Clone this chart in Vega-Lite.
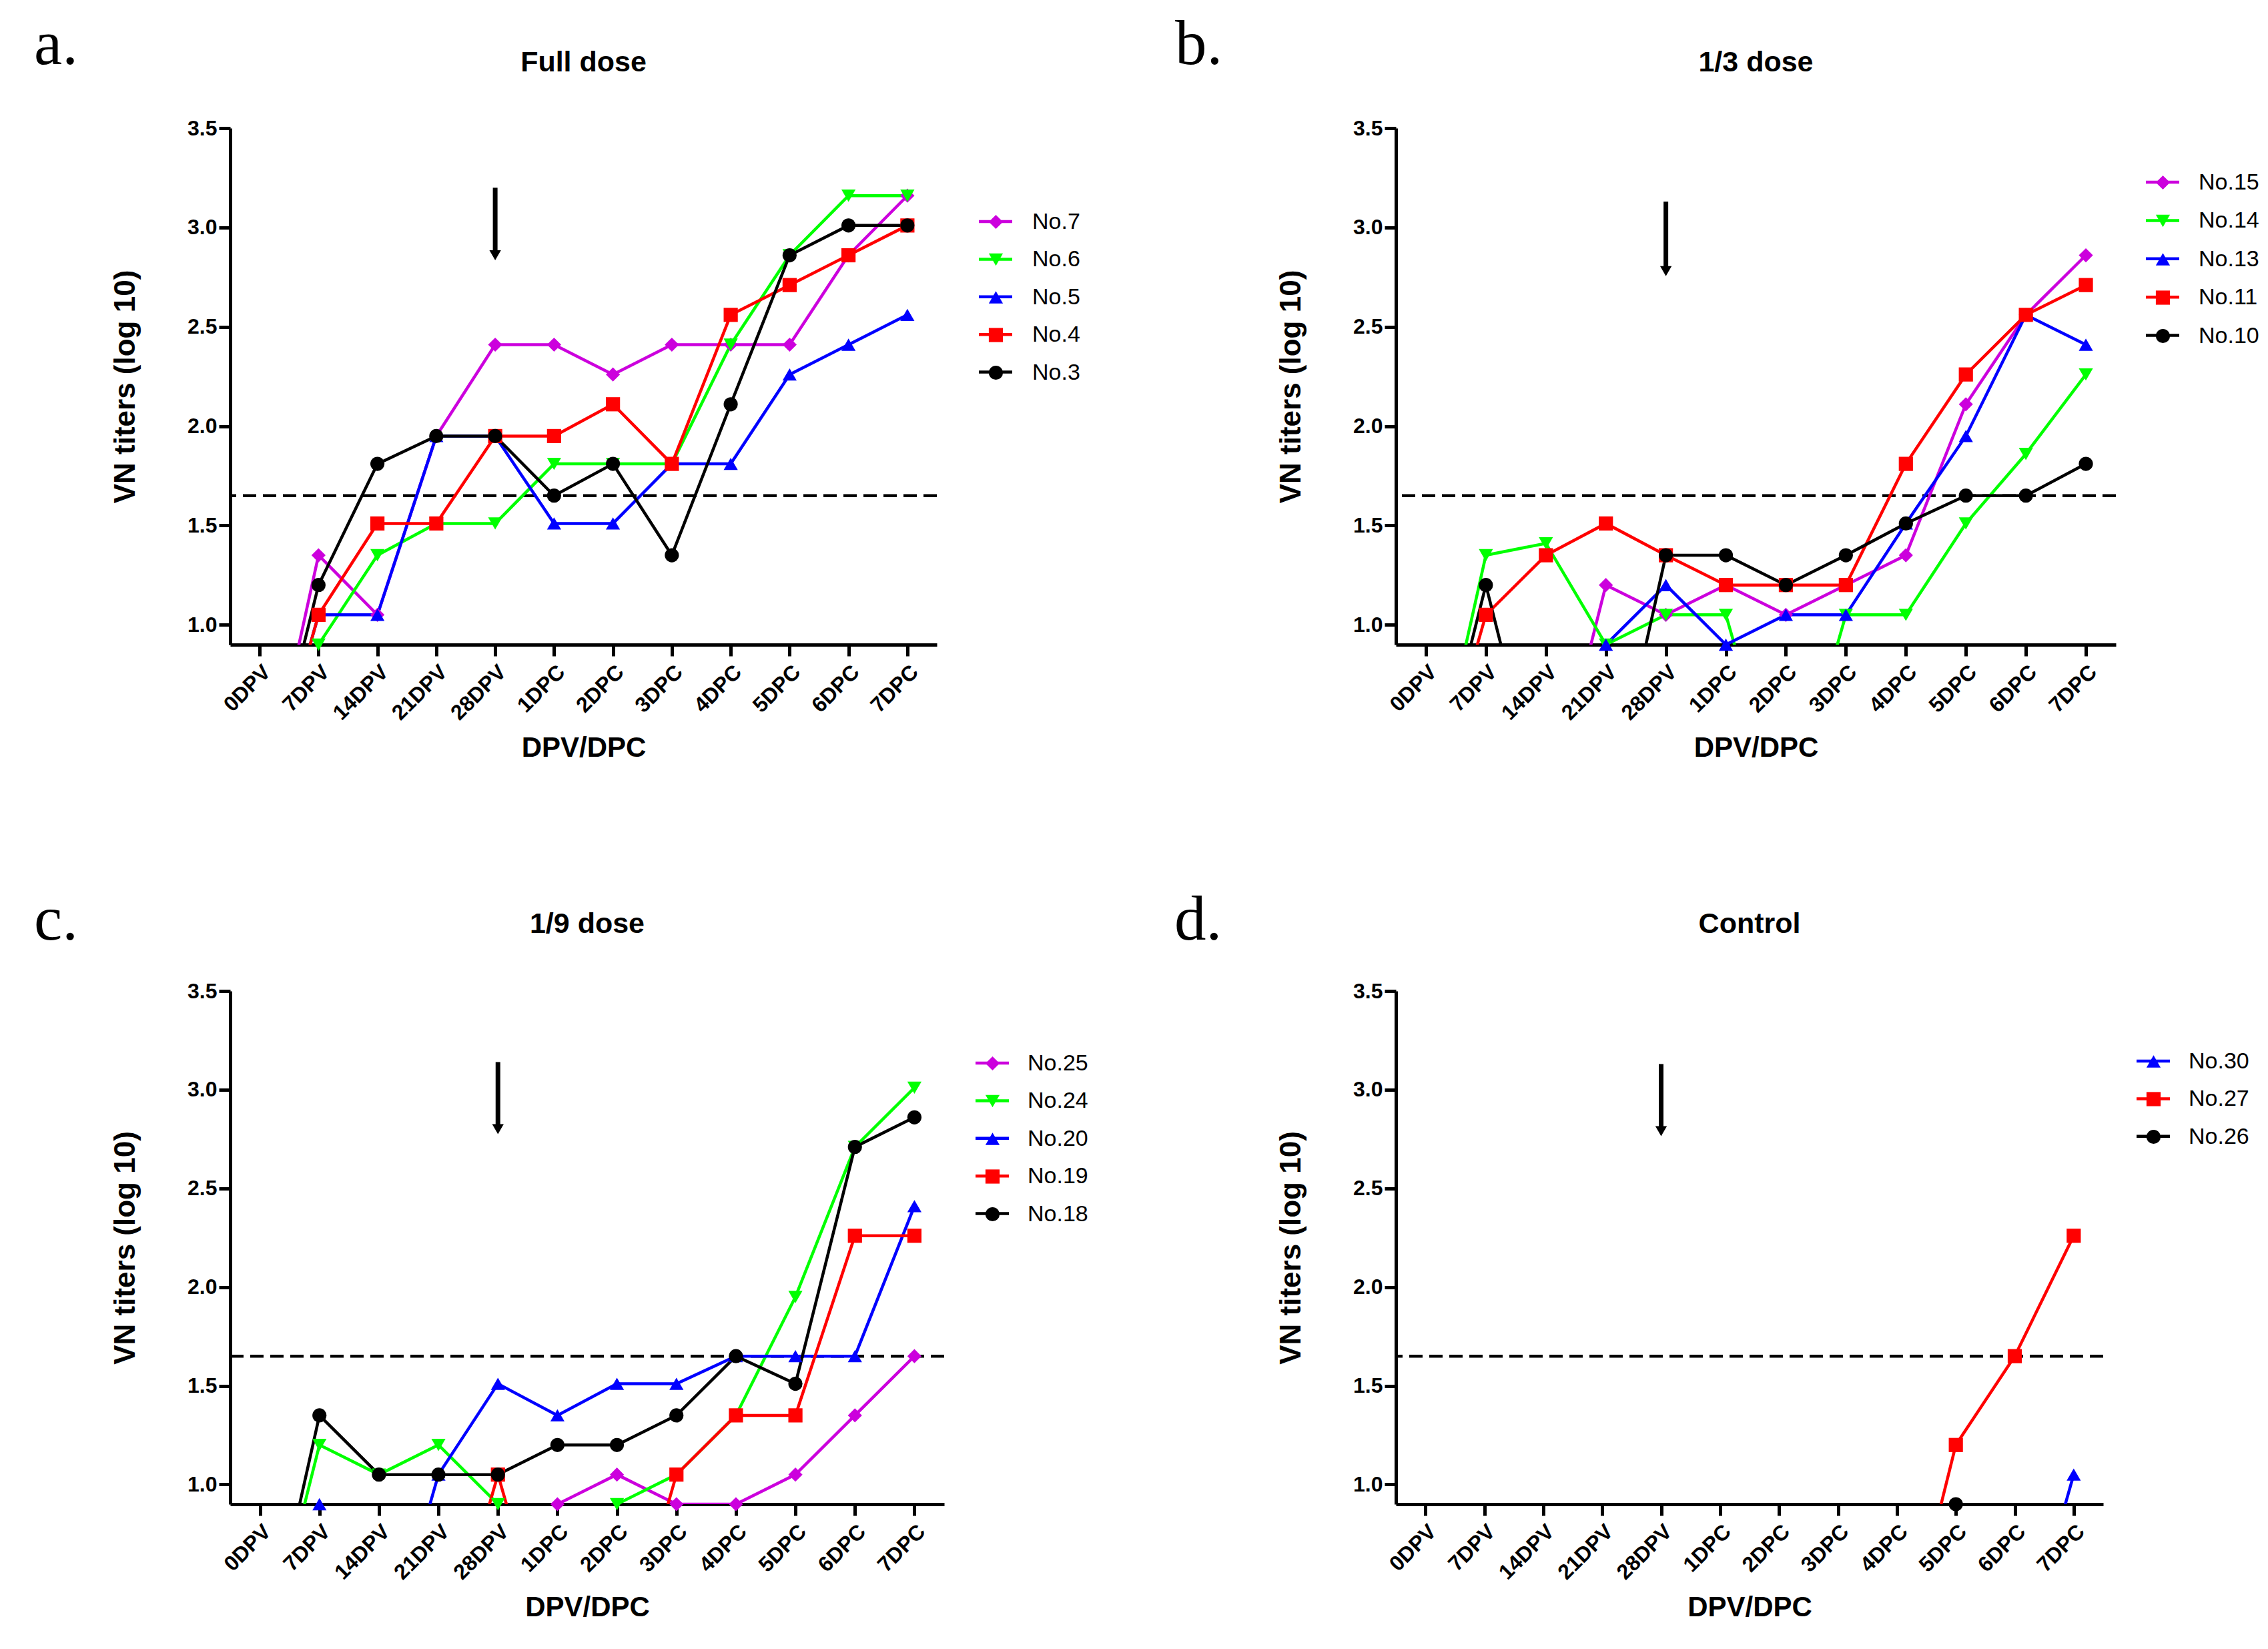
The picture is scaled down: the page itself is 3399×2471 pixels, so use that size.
{
  "$schema": "https://vega.github.io/schema/vega-lite/v6.json",
  "background": "white",
  "padding": {"left": 51, "top": 20, "right": 10, "bottom": 10},
  "config": {
    "font": "Liberation Sans",
    "view": {"stroke": null},
    "axis": {"domainColor": "#000", "domainWidth": 5, "tickColor": "#000", "tickWidth": 5, "tickSize": 17, "labelFont": "Liberation Sans", "labelFontSize": 32, "labelFontWeight": "bold", "labelColor": "#000", "titleFont": "Liberation Sans", "titleFontWeight": "bold", "titleColor": "#000", "grid": false},
    "axisX": {"labelAngle": -45, "labelPadding": 8, "titlePadding": 16, "titleFontSize": 42},
    "axisY": {"labelPadding": 3, "titlePadding": 70, "titleFontSize": 44},
    "title": {"font": "Liberation Sans", "fontSize": 43, "fontWeight": "bold", "color": "#000", "anchor": "middle", "frame": "group"},
    "legend": {"labelFont": "Liberation Sans", "labelFontSize": 34, "labelColor": "#000", "padding": 0}
  },
  "datasets": {
    "a": [
      {"id":"No.7","day":"0DPV","v":0},{"id":"No.7","day":"7DPV","v":1.35},{"id":"No.7","day":"14DPV","v":1.05},{"id":"No.7","day":"21DPV","v":1.95},{"id":"No.7","day":"28DPV","v":2.41},{"id":"No.7","day":"1DPC","v":2.41},{"id":"No.7","day":"2DPC","v":2.26},{"id":"No.7","day":"3DPC","v":2.41},{"id":"No.7","day":"4DPC","v":2.41},{"id":"No.7","day":"5DPC","v":2.41},{"id":"No.7","day":"6DPC","v":2.86},{"id":"No.7","day":"7DPC","v":3.16},
      {"id":"No.6","day":"0DPV","v":0},{"id":"No.6","day":"7DPV","v":0.9},{"id":"No.6","day":"14DPV","v":1.35},{"id":"No.6","day":"21DPV","v":1.51},{"id":"No.6","day":"28DPV","v":1.51},{"id":"No.6","day":"1DPC","v":1.81},{"id":"No.6","day":"2DPC","v":1.81},{"id":"No.6","day":"3DPC","v":1.81},{"id":"No.6","day":"4DPC","v":2.41},{"id":"No.6","day":"5DPC","v":2.86},{"id":"No.6","day":"6DPC","v":3.16},{"id":"No.6","day":"7DPC","v":3.16},
      {"id":"No.5","day":"0DPV","v":0},{"id":"No.5","day":"7DPV","v":1.05},{"id":"No.5","day":"14DPV","v":1.05},{"id":"No.5","day":"21DPV","v":1.95},{"id":"No.5","day":"28DPV","v":1.95},{"id":"No.5","day":"1DPC","v":1.51},{"id":"No.5","day":"2DPC","v":1.51},{"id":"No.5","day":"3DPC","v":1.81},{"id":"No.5","day":"4DPC","v":1.81},{"id":"No.5","day":"5DPC","v":2.26},{"id":"No.5","day":"6DPC","v":2.41},{"id":"No.5","day":"7DPC","v":2.56},
      {"id":"No.4","day":"0DPV","v":0},{"id":"No.4","day":"7DPV","v":1.05},{"id":"No.4","day":"14DPV","v":1.51},{"id":"No.4","day":"21DPV","v":1.51},{"id":"No.4","day":"28DPV","v":1.95},{"id":"No.4","day":"1DPC","v":1.95},{"id":"No.4","day":"2DPC","v":2.11},{"id":"No.4","day":"3DPC","v":1.81},{"id":"No.4","day":"4DPC","v":2.56},{"id":"No.4","day":"5DPC","v":2.71},{"id":"No.4","day":"6DPC","v":2.86},{"id":"No.4","day":"7DPC","v":3.01},
      {"id":"No.3","day":"0DPV","v":0},{"id":"No.3","day":"7DPV","v":1.2},{"id":"No.3","day":"14DPV","v":1.81},{"id":"No.3","day":"21DPV","v":1.95},{"id":"No.3","day":"28DPV","v":1.95},{"id":"No.3","day":"1DPC","v":1.65},{"id":"No.3","day":"2DPC","v":1.81},{"id":"No.3","day":"3DPC","v":1.35},{"id":"No.3","day":"4DPC","v":2.11},{"id":"No.3","day":"5DPC","v":2.86},{"id":"No.3","day":"6DPC","v":3.01},{"id":"No.3","day":"7DPC","v":3.01}
    ],
    "b": [
      {"id":"No.15","day":"0DPV","v":0},{"id":"No.15","day":"7DPV","v":0},{"id":"No.15","day":"14DPV","v":0},{"id":"No.15","day":"21DPV","v":1.2},{"id":"No.15","day":"28DPV","v":1.05},{"id":"No.15","day":"1DPC","v":1.2},{"id":"No.15","day":"2DPC","v":1.05},{"id":"No.15","day":"3DPC","v":1.2},{"id":"No.15","day":"4DPC","v":1.35},{"id":"No.15","day":"5DPC","v":2.11},{"id":"No.15","day":"6DPC","v":2.56},{"id":"No.15","day":"7DPC","v":2.86},
      {"id":"No.14","day":"0DPV","v":0},{"id":"No.14","day":"7DPV","v":1.35},{"id":"No.14","day":"14DPV","v":1.41},{"id":"No.14","day":"21DPV","v":0.9},{"id":"No.14","day":"28DPV","v":1.05},{"id":"No.14","day":"1DPC","v":1.05},{"id":"No.14","day":"2DPC","v":0},{"id":"No.14","day":"3DPC","v":1.05},{"id":"No.14","day":"4DPC","v":1.05},{"id":"No.14","day":"5DPC","v":1.51},{"id":"No.14","day":"6DPC","v":1.86},{"id":"No.14","day":"7DPC","v":2.26},
      {"id":"No.13","day":"0DPV","v":0},{"id":"No.13","day":"7DPV","v":0},{"id":"No.13","day":"14DPV","v":0},{"id":"No.13","day":"21DPV","v":0.9},{"id":"No.13","day":"28DPV","v":1.2},{"id":"No.13","day":"1DPC","v":0.9},{"id":"No.13","day":"2DPC","v":1.05},{"id":"No.13","day":"3DPC","v":1.05},{"id":"No.13","day":"4DPC","v":1.51},{"id":"No.13","day":"5DPC","v":1.95},{"id":"No.13","day":"6DPC","v":2.56},{"id":"No.13","day":"7DPC","v":2.41},
      {"id":"No.11","day":"0DPV","v":0},{"id":"No.11","day":"7DPV","v":1.05},{"id":"No.11","day":"14DPV","v":1.35},{"id":"No.11","day":"21DPV","v":1.51},{"id":"No.11","day":"28DPV","v":1.35},{"id":"No.11","day":"1DPC","v":1.2},{"id":"No.11","day":"2DPC","v":1.2},{"id":"No.11","day":"3DPC","v":1.2},{"id":"No.11","day":"4DPC","v":1.81},{"id":"No.11","day":"5DPC","v":2.26},{"id":"No.11","day":"6DPC","v":2.56},{"id":"No.11","day":"7DPC","v":2.71},
      {"id":"No.10","day":"0DPV","v":0},{"id":"No.10","day":"7DPV","v":1.2},{"id":"No.10","day":"14DPV","v":0},{"id":"No.10","day":"21DPV","v":0},{"id":"No.10","day":"28DPV","v":1.35},{"id":"No.10","day":"1DPC","v":1.35},{"id":"No.10","day":"2DPC","v":1.2},{"id":"No.10","day":"3DPC","v":1.35},{"id":"No.10","day":"4DPC","v":1.51},{"id":"No.10","day":"5DPC","v":1.65},{"id":"No.10","day":"6DPC","v":1.65},{"id":"No.10","day":"7DPC","v":1.81}
    ],
    "c": [
      {"id":"No.25","day":"0DPV","v":0},{"id":"No.25","day":"7DPV","v":0},{"id":"No.25","day":"14DPV","v":0},{"id":"No.25","day":"21DPV","v":0},{"id":"No.25","day":"28DPV","v":0},{"id":"No.25","day":"1DPC","v":0.9},{"id":"No.25","day":"2DPC","v":1.05},{"id":"No.25","day":"3DPC","v":0.9},{"id":"No.25","day":"4DPC","v":0.9},{"id":"No.25","day":"5DPC","v":1.05},{"id":"No.25","day":"6DPC","v":1.35},{"id":"No.25","day":"7DPC","v":1.65},
      {"id":"No.24","day":"0DPV","v":0},{"id":"No.24","day":"7DPV","v":1.2},{"id":"No.24","day":"14DPV","v":1.05},{"id":"No.24","day":"21DPV","v":1.2},{"id":"No.24","day":"28DPV","v":0.9},{"id":"No.24","day":"1DPC","v":0},{"id":"No.24","day":"2DPC","v":0.9},{"id":"No.24","day":"3DPC","v":1.05},{"id":"No.24","day":"4DPC","v":1.35},{"id":"No.24","day":"5DPC","v":1.95},{"id":"No.24","day":"6DPC","v":2.71},{"id":"No.24","day":"7DPC","v":3.01},
      {"id":"No.20","day":"0DPV","v":0},{"id":"No.20","day":"7DPV","v":0.9},{"id":"No.20","day":"14DPV","v":0},{"id":"No.20","day":"21DPV","v":1.05},{"id":"No.20","day":"28DPV","v":1.51},{"id":"No.20","day":"1DPC","v":1.35},{"id":"No.20","day":"2DPC","v":1.51},{"id":"No.20","day":"3DPC","v":1.51},{"id":"No.20","day":"4DPC","v":1.65},{"id":"No.20","day":"5DPC","v":1.65},{"id":"No.20","day":"6DPC","v":1.65},{"id":"No.20","day":"7DPC","v":2.41},
      {"id":"No.19","day":"0DPV","v":0},{"id":"No.19","day":"7DPV","v":0},{"id":"No.19","day":"14DPV","v":0},{"id":"No.19","day":"21DPV","v":0},{"id":"No.19","day":"28DPV","v":1.05},{"id":"No.19","day":"1DPC","v":0},{"id":"No.19","day":"2DPC","v":0},{"id":"No.19","day":"3DPC","v":1.05},{"id":"No.19","day":"4DPC","v":1.35},{"id":"No.19","day":"5DPC","v":1.35},{"id":"No.19","day":"6DPC","v":2.26},{"id":"No.19","day":"7DPC","v":2.26},
      {"id":"No.18","day":"0DPV","v":0},{"id":"No.18","day":"7DPV","v":1.35},{"id":"No.18","day":"14DPV","v":1.05},{"id":"No.18","day":"21DPV","v":1.05},{"id":"No.18","day":"28DPV","v":1.05},{"id":"No.18","day":"1DPC","v":1.2},{"id":"No.18","day":"2DPC","v":1.2},{"id":"No.18","day":"3DPC","v":1.35},{"id":"No.18","day":"4DPC","v":1.65},{"id":"No.18","day":"5DPC","v":1.51},{"id":"No.18","day":"6DPC","v":2.71},{"id":"No.18","day":"7DPC","v":2.86}
    ],
    "d": [
      {"id":"No.30","day":"0DPV","v":0},{"id":"No.30","day":"7DPV","v":0},{"id":"No.30","day":"14DPV","v":0},{"id":"No.30","day":"21DPV","v":0},{"id":"No.30","day":"28DPV","v":0},{"id":"No.30","day":"1DPC","v":0},{"id":"No.30","day":"2DPC","v":0},{"id":"No.30","day":"3DPC","v":0},{"id":"No.30","day":"4DPC","v":0},{"id":"No.30","day":"5DPC","v":0},{"id":"No.30","day":"6DPC","v":0},{"id":"No.30","day":"7DPC","v":1.05},
      {"id":"No.27","day":"0DPV","v":0},{"id":"No.27","day":"7DPV","v":0},{"id":"No.27","day":"14DPV","v":0},{"id":"No.27","day":"21DPV","v":0},{"id":"No.27","day":"28DPV","v":0},{"id":"No.27","day":"1DPC","v":0},{"id":"No.27","day":"2DPC","v":0},{"id":"No.27","day":"3DPC","v":0},{"id":"No.27","day":"4DPC","v":0},{"id":"No.27","day":"5DPC","v":1.2},{"id":"No.27","day":"6DPC","v":1.65},{"id":"No.27","day":"7DPC","v":2.26},
      {"id":"No.26","day":"0DPV","v":0},{"id":"No.26","day":"7DPV","v":0},{"id":"No.26","day":"14DPV","v":0},{"id":"No.26","day":"21DPV","v":0},{"id":"No.26","day":"28DPV","v":0},{"id":"No.26","day":"1DPC","v":0},{"id":"No.26","day":"2DPC","v":0},{"id":"No.26","day":"3DPC","v":0},{"id":"No.26","day":"4DPC","v":0},{"id":"No.26","day":"5DPC","v":0.9},{"id":"No.26","day":"6DPC","v":0},{"id":"No.26","day":"7DPC","v":0}
    ]
  },
  "spacing": 1293,
  "bounds": "flush",
  "resolve": {"scale": {"color": "independent", "shape": "independent"}, "legend": {"color": "independent", "shape": "independent"}},
  "vconcat": [
    {
      "spacing": 1747,
      "bounds": "flush",
      "resolve": {"scale": {"color": "independent", "shape": "independent"}, "legend": {"color": "independent", "shape": "independent"}},
      "hconcat": [
        {
          "title": {"text": "a.", "font": "Liberation Serif", "fontSize": 95, "fontWeight": "normal", "anchor": "start", "dx": -294, "dy": 43, "offset": 0},
          "bounds": "flush",
          "vconcat": [
            {
              "width": 1059, "height": 774,
              "title": {"text": "Full dose", "offset": 60},
              "resolve": {"scale": {"color": "independent", "shape": "independent"}, "legend": {"color": "independent", "shape": "independent"}},
              "layer": [
                {"data": {"values": [{"thr": 1.65}]}, "mark": {"type": "rule", "strokeDash": [20, 10], "strokeWidth": 4.5, "color": "#000"}, "encoding": {"y": {"field": "thr", "type": "quantitative", "title": "VN titers (log 10)", "scale": {"domain": [0.9, 3.5], "nice": false, "zero": false}}}},
                {"data": {"name": "a"}, "mark": {"type": "line", "strokeWidth": 4.5, "clip": true},
                 "encoding": {
                   "x": {"field": "day", "type": "ordinal", "title": "DPV/DPC", "scale": {"type": "point", "padding": 0.5, "domain": ["0DPV","7DPV","14DPV","21DPV","28DPV","1DPC","2DPC","3DPC","4DPC","5DPC","6DPC","7DPC"]}},
                   "y": {"field": "v", "type": "quantitative", "title": "VN titers (log 10)", "scale": {"domain": [0.9, 3.5], "nice": false, "zero": false}, "axis": {"values": [1, 1.5, 2, 2.5, 3, 3.5], "format": ".1f"}},
                   "color": {"field": "id", "type": "nominal", "scale": {"domain": ["No.7","No.6","No.5","No.4","No.3"], "range": ["#CC00DD","#00FF00","#0000FF","#FF0000","#000000"]},
                     "legend": {"orient": "none", "legendX": 1119.5, "legendY": 112.5, "title": null, "symbolType": "stroke", "symbolSize": 2500, "symbolStrokeWidth": 4.5, "labelOpacity": 0, "labelExpr": "''", "labelOffset": 27.5, "rowPadding": 11.4}}
                 }},
                {"data": {"name": "a"}, "transform": [{"filter": "datum.v >= 0.89"}], "mark": {"type": "point", "filled": true, "size": 450, "opacity": 1, "strokeWidth": 0},
                 "encoding": {
                   "x": {"field": "day", "type": "ordinal", "title": "DPV/DPC", "scale": {"type": "point", "padding": 0.5, "domain": ["0DPV","7DPV","14DPV","21DPV","28DPV","1DPC","2DPC","3DPC","4DPC","5DPC","6DPC","7DPC"]}},
                   "y": {"field": "v", "type": "quantitative", "title": "VN titers (log 10)", "scale": {"domain": [0.9, 3.5], "nice": false, "zero": false}},
                   "color": {"field": "id", "type": "nominal", "scale": {"domain": ["No.7","No.6","No.5","No.4","No.3"], "range": ["#CC00DD","#00FF00","#0000FF","#FF0000","#000000"]}, "legend": null},
                   "shape": {"field": "id", "type": "nominal", "sort": ["No.7","No.6","No.5","No.4","No.3"], "scale": {"range": ["diamond","triangle-down","triangle-up","square","circle"]},
                     "legend": {"orient": "none", "legendX": 1130.5, "legendY": 123.5, "title": null, "symbolSize": 2500, "symbolStrokeWidth": 4.5, "labelOffset": 37.5, "rowPadding": 22.5,
                       "encoding": {"symbols": {"size": {"value": 450}, "strokeWidth": {"value": 0}, "opacity": {"value": 1}, "fill": {"value": {"expr": "datum.value==='No.7'?'#CC00DD':datum.value==='No.6'?'#00FF00':datum.value==='No.5'?'#0000FF':datum.value==='No.4'?'#FF0000':'#000000'"}}}}}}
                 }},
                {"data": {"values": [{"day": "28DPV", "top": 3.2, "head": 2.86}]}, "mark": {"type": "rule", "strokeWidth": 7, "color": "#000"},
                 "encoding": {"x": {"field": "day", "type": "ordinal", "title": "DPV/DPC", "scale": {"type": "point", "padding": 0.5, "domain": ["0DPV","7DPV","14DPV","21DPV","28DPV","1DPC","2DPC","3DPC","4DPC","5DPC","6DPC","7DPC"]}}, "y": {"field": "top", "type": "quantitative", "title": "VN titers (log 10)", "scale": {"domain": [0.9, 3.5], "nice": false, "zero": false}}, "y2": {"field": "head"}}},
                {"data": {"values": [{"day": "28DPV", "top": 3.2, "head": 2.86}]}, "mark": {"type": "point", "shape": "triangle-down", "filled": true, "size": 300, "opacity": 1, "color": "#000"},
                 "encoding": {"x": {"field": "day", "type": "ordinal", "title": "DPV/DPC", "scale": {"type": "point", "padding": 0.5, "domain": ["0DPV","7DPV","14DPV","21DPV","28DPV","1DPC","2DPC","3DPC","4DPC","5DPC","6DPC","7DPC"]}}, "y": {"field": "head", "type": "quantitative", "title": "VN titers (log 10)", "scale": {"domain": [0.9, 3.5], "nice": false, "zero": false}}}}
              ]
            }
          ]
        },
        {
          "title": {"text": "b.", "font": "Liberation Serif", "fontSize": 95, "fontWeight": "normal", "anchor": "start", "dx": -331, "dy": 43, "offset": 0},
          "bounds": "flush",
          "vconcat": [
            {
              "width": 1079, "height": 774,
              "title": {"text": "1/3 dose", "offset": 60},
              "resolve": {"scale": {"color": "independent", "shape": "independent"}, "legend": {"color": "independent", "shape": "independent"}},
              "layer": [
                {"data": {"values": [{"thr": 1.65}]}, "mark": {"type": "rule", "strokeDash": [20, 10], "strokeWidth": 4.5, "color": "#000"}, "encoding": {"y": {"field": "thr", "type": "quantitative", "title": "VN titers (log 10)", "scale": {"domain": [0.9, 3.5], "nice": false, "zero": false}}}},
                {"data": {"name": "b"}, "mark": {"type": "line", "strokeWidth": 4.5, "clip": true},
                 "encoding": {
                   "x": {"field": "day", "type": "ordinal", "title": "DPV/DPC", "scale": {"type": "point", "padding": 0.5, "domain": ["0DPV","7DPV","14DPV","21DPV","28DPV","1DPC","2DPC","3DPC","4DPC","5DPC","6DPC","7DPC"]}},
                   "y": {"field": "v", "type": "quantitative", "title": "VN titers (log 10)", "scale": {"domain": [0.9, 3.5], "nice": false, "zero": false}, "axis": {"values": [1, 1.5, 2, 2.5, 3, 3.5], "format": ".1f"}},
                   "color": {"field": "id", "type": "nominal", "scale": {"domain": ["No.15","No.14","No.13","No.11","No.10"], "range": ["#CC00DD","#00FF00","#0000FF","#FF0000","#000000"]},
                     "legend": {"orient": "none", "legendX": 1121.5, "legendY": 53.5, "title": null, "symbolType": "stroke", "symbolSize": 2500, "symbolStrokeWidth": 4.5, "labelOpacity": 0, "labelExpr": "''", "labelOffset": 26.5, "rowPadding": 12.4}}
                 }},
                {"data": {"name": "b"}, "transform": [{"filter": "datum.v >= 0.89"}], "mark": {"type": "point", "filled": true, "size": 450, "opacity": 1, "strokeWidth": 0},
                 "encoding": {
                   "x": {"field": "day", "type": "ordinal", "title": "DPV/DPC", "scale": {"type": "point", "padding": 0.5, "domain": ["0DPV","7DPV","14DPV","21DPV","28DPV","1DPC","2DPC","3DPC","4DPC","5DPC","6DPC","7DPC"]}},
                   "y": {"field": "v", "type": "quantitative", "title": "VN titers (log 10)", "scale": {"domain": [0.9, 3.5], "nice": false, "zero": false}},
                   "color": {"field": "id", "type": "nominal", "scale": {"domain": ["No.15","No.14","No.13","No.11","No.10"], "range": ["#CC00DD","#00FF00","#0000FF","#FF0000","#000000"]}, "legend": null},
                   "shape": {"field": "id", "type": "nominal", "sort": ["No.15","No.14","No.13","No.11","No.10"], "scale": {"range": ["diamond","triangle-down","triangle-up","square","circle"]},
                     "legend": {"orient": "none", "legendX": 1132.5, "legendY": 64.5, "title": null, "symbolSize": 2500, "symbolStrokeWidth": 4.5, "labelOffset": 36.5, "rowPadding": 23.5,
                       "encoding": {"symbols": {"size": {"value": 450}, "strokeWidth": {"value": 0}, "opacity": {"value": 1}, "fill": {"value": {"expr": "datum.value==='No.15'?'#CC00DD':datum.value==='No.14'?'#00FF00':datum.value==='No.13'?'#0000FF':datum.value==='No.11'?'#FF0000':'#000000'"}}}}}}
                 }},
                {"data": {"values": [{"day": "28DPV", "top": 3.13, "head": 2.78}]}, "mark": {"type": "rule", "strokeWidth": 7, "color": "#000"},
                 "encoding": {"x": {"field": "day", "type": "ordinal", "title": "DPV/DPC", "scale": {"type": "point", "padding": 0.5, "domain": ["0DPV","7DPV","14DPV","21DPV","28DPV","1DPC","2DPC","3DPC","4DPC","5DPC","6DPC","7DPC"]}}, "y": {"field": "top", "type": "quantitative", "title": "VN titers (log 10)", "scale": {"domain": [0.9, 3.5], "nice": false, "zero": false}}, "y2": {"field": "head"}}},
                {"data": {"values": [{"day": "28DPV", "top": 3.13, "head": 2.78}]}, "mark": {"type": "point", "shape": "triangle-down", "filled": true, "size": 300, "opacity": 1, "color": "#000"},
                 "encoding": {"x": {"field": "day", "type": "ordinal", "title": "DPV/DPC", "scale": {"type": "point", "padding": 0.5, "domain": ["0DPV","7DPV","14DPV","21DPV","28DPV","1DPC","2DPC","3DPC","4DPC","5DPC","6DPC","7DPC"]}}, "y": {"field": "head", "type": "quantitative", "title": "VN titers (log 10)", "scale": {"domain": [0.9, 3.5], "nice": false, "zero": false}}}}
              ]
            }
          ]
        }
      ]
    },
    {
      "spacing": 1747,
      "bounds": "flush",
      "resolve": {"scale": {"color": "independent", "shape": "independent"}, "legend": {"color": "independent", "shape": "independent"}},
      "hconcat": [
        {
          "title": {"text": "c.", "font": "Liberation Serif", "fontSize": 95, "fontWeight": "normal", "anchor": "start", "dx": -294, "dy": 64, "offset": 0},
          "bounds": "flush",
          "vconcat": [
            {
              "width": 1070, "height": 769,
              "title": {"text": "1/9 dose", "offset": 62},
              "resolve": {"scale": {"color": "independent", "shape": "independent"}, "legend": {"color": "independent", "shape": "independent"}},
              "layer": [
                {"data": {"values": [{"thr": 1.65}]}, "mark": {"type": "rule", "strokeDash": [20, 10], "strokeWidth": 4.5, "color": "#000"}, "encoding": {"y": {"field": "thr", "type": "quantitative", "title": "VN titers (log 10)", "scale": {"domain": [0.9, 3.5], "nice": false, "zero": false}}}},
                {"data": {"name": "c"}, "mark": {"type": "line", "strokeWidth": 4.5, "clip": true},
                 "encoding": {
                   "x": {"field": "day", "type": "ordinal", "title": "DPV/DPC", "scale": {"type": "point", "padding": 0.5, "domain": ["0DPV","7DPV","14DPV","21DPV","28DPV","1DPC","2DPC","3DPC","4DPC","5DPC","6DPC","7DPC"]}},
                   "y": {"field": "v", "type": "quantitative", "title": "VN titers (log 10)", "scale": {"domain": [0.9, 3.5], "nice": false, "zero": false}, "axis": {"values": [1, 1.5, 2, 2.5, 3, 3.5], "format": ".1f"}},
                   "color": {"field": "id", "type": "nominal", "scale": {"domain": ["No.25","No.24","No.20","No.19","No.18"], "range": ["#CC00DD","#00FF00","#0000FF","#FF0000","#000000"]},
                     "legend": {"orient": "none", "legendX": 1114.5, "legendY": 80.5, "title": null, "symbolType": "stroke", "symbolSize": 2500, "symbolStrokeWidth": 4.5, "labelOpacity": 0, "labelExpr": "''", "labelOffset": 25.5, "rowPadding": 11.4}}
                 }},
                {"data": {"name": "c"}, "transform": [{"filter": "datum.v >= 0.89"}], "mark": {"type": "point", "filled": true, "size": 450, "opacity": 1, "strokeWidth": 0},
                 "encoding": {
                   "x": {"field": "day", "type": "ordinal", "title": "DPV/DPC", "scale": {"type": "point", "padding": 0.5, "domain": ["0DPV","7DPV","14DPV","21DPV","28DPV","1DPC","2DPC","3DPC","4DPC","5DPC","6DPC","7DPC"]}},
                   "y": {"field": "v", "type": "quantitative", "title": "VN titers (log 10)", "scale": {"domain": [0.9, 3.5], "nice": false, "zero": false}},
                   "color": {"field": "id", "type": "nominal", "scale": {"domain": ["No.25","No.24","No.20","No.19","No.18"], "range": ["#CC00DD","#00FF00","#0000FF","#FF0000","#000000"]}, "legend": null},
                   "shape": {"field": "id", "type": "nominal", "sort": ["No.25","No.24","No.20","No.19","No.18"], "scale": {"range": ["diamond","triangle-down","triangle-up","square","circle"]},
                     "legend": {"orient": "none", "legendX": 1125.5, "legendY": 91.5, "title": null, "symbolSize": 2500, "symbolStrokeWidth": 4.5, "labelOffset": 35.5, "rowPadding": 22.5,
                       "encoding": {"symbols": {"size": {"value": 450}, "strokeWidth": {"value": 0}, "opacity": {"value": 1}, "fill": {"value": {"expr": "datum.value==='No.25'?'#CC00DD':datum.value==='No.24'?'#00FF00':datum.value==='No.20'?'#0000FF':datum.value==='No.19'?'#FF0000':'#000000'"}}}}}}
                 }},
                {"data": {"values": [{"day": "28DPV", "top": 3.14, "head": 2.8}]}, "mark": {"type": "rule", "strokeWidth": 7, "color": "#000"},
                 "encoding": {"x": {"field": "day", "type": "ordinal", "title": "DPV/DPC", "scale": {"type": "point", "padding": 0.5, "domain": ["0DPV","7DPV","14DPV","21DPV","28DPV","1DPC","2DPC","3DPC","4DPC","5DPC","6DPC","7DPC"]}}, "y": {"field": "top", "type": "quantitative", "title": "VN titers (log 10)", "scale": {"domain": [0.9, 3.5], "nice": false, "zero": false}}, "y2": {"field": "head"}}},
                {"data": {"values": [{"day": "28DPV", "top": 3.14, "head": 2.8}]}, "mark": {"type": "point", "shape": "triangle-down", "filled": true, "size": 300, "opacity": 1, "color": "#000"},
                 "encoding": {"x": {"field": "day", "type": "ordinal", "title": "DPV/DPC", "scale": {"type": "point", "padding": 0.5, "domain": ["0DPV","7DPV","14DPV","21DPV","28DPV","1DPC","2DPC","3DPC","4DPC","5DPC","6DPC","7DPC"]}}, "y": {"field": "head", "type": "quantitative", "title": "VN titers (log 10)", "scale": {"domain": [0.9, 3.5], "nice": false, "zero": false}}}}
              ]
            }
          ]
        },
        {
          "title": {"text": "d.", "font": "Liberation Serif", "fontSize": 95, "fontWeight": "normal", "anchor": "start", "dx": -332, "dy": 64, "offset": 0},
          "bounds": "flush",
          "vconcat": [
            {
              "width": 1060, "height": 769,
              "title": {"text": "Control", "offset": 62},
              "resolve": {"scale": {"color": "independent", "shape": "independent"}, "legend": {"color": "independent", "shape": "independent"}},
              "layer": [
                {"data": {"values": [{"thr": 1.65}]}, "mark": {"type": "rule", "strokeDash": [20, 10], "strokeWidth": 4.5, "color": "#000"}, "encoding": {"y": {"field": "thr", "type": "quantitative", "title": "VN titers (log 10)", "scale": {"domain": [0.9, 3.5], "nice": false, "zero": false}}}},
                {"data": {"name": "d"}, "mark": {"type": "line", "strokeWidth": 4.5, "clip": true},
                 "encoding": {
                   "x": {"field": "day", "type": "ordinal", "title": "DPV/DPC", "scale": {"type": "point", "padding": 0.5, "domain": ["0DPV","7DPV","14DPV","21DPV","28DPV","1DPC","2DPC","3DPC","4DPC","5DPC","6DPC","7DPC"]}},
                   "y": {"field": "v", "type": "quantitative", "title": "VN titers (log 10)", "scale": {"domain": [0.9, 3.5], "nice": false, "zero": false}, "axis": {"values": [1, 1.5, 2, 2.5, 3, 3.5], "format": ".1f"}},
                   "color": {"field": "id", "type": "nominal", "scale": {"domain": ["No.30","No.27","No.26"], "range": ["#0000FF","#FF0000","#000000"]},
                     "legend": {"orient": "none", "legendX": 1107.5, "legendY": 77.5, "title": null, "symbolType": "stroke", "symbolSize": 2500, "symbolStrokeWidth": 4.5, "labelOpacity": 0, "labelExpr": "''", "labelOffset": 25.5, "rowPadding": 11.4}}
                 }},
                {"data": {"name": "d"}, "transform": [{"filter": "datum.v >= 0.89"}], "mark": {"type": "point", "filled": true, "size": 450, "opacity": 1, "strokeWidth": 0},
                 "encoding": {
                   "x": {"field": "day", "type": "ordinal", "title": "DPV/DPC", "scale": {"type": "point", "padding": 0.5, "domain": ["0DPV","7DPV","14DPV","21DPV","28DPV","1DPC","2DPC","3DPC","4DPC","5DPC","6DPC","7DPC"]}},
                   "y": {"field": "v", "type": "quantitative", "title": "VN titers (log 10)", "scale": {"domain": [0.9, 3.5], "nice": false, "zero": false}},
                   "color": {"field": "id", "type": "nominal", "scale": {"domain": ["No.30","No.27","No.26"], "range": ["#0000FF","#FF0000","#000000"]}, "legend": null},
                   "shape": {"field": "id", "type": "nominal", "sort": ["No.30","No.27","No.26"], "scale": {"range": ["triangle-up","square","circle"]},
                     "legend": {"orient": "none", "legendX": 1118.5, "legendY": 88.5, "title": null, "symbolSize": 2500, "symbolStrokeWidth": 4.5, "labelOffset": 35.5, "rowPadding": 22.5,
                       "encoding": {"symbols": {"size": {"value": 450}, "strokeWidth": {"value": 0}, "opacity": {"value": 1}, "fill": {"value": {"expr": "datum.value==='No.30'?'#0000FF':datum.value==='No.27'?'#FF0000':'#000000'"}}}}}}
                 }},
                {"data": {"values": [{"day": "28DPV", "top": 3.13, "head": 2.79}]}, "mark": {"type": "rule", "strokeWidth": 7, "color": "#000"},
                 "encoding": {"x": {"field": "day", "type": "ordinal", "title": "DPV/DPC", "scale": {"type": "point", "padding": 0.5, "domain": ["0DPV","7DPV","14DPV","21DPV","28DPV","1DPC","2DPC","3DPC","4DPC","5DPC","6DPC","7DPC"]}}, "y": {"field": "top", "type": "quantitative", "title": "VN titers (log 10)", "scale": {"domain": [0.9, 3.5], "nice": false, "zero": false}}, "y2": {"field": "head"}}},
                {"data": {"values": [{"day": "28DPV", "top": 3.13, "head": 2.79}]}, "mark": {"type": "point", "shape": "triangle-down", "filled": true, "size": 300, "opacity": 1, "color": "#000"},
                 "encoding": {"x": {"field": "day", "type": "ordinal", "title": "DPV/DPC", "scale": {"type": "point", "padding": 0.5, "domain": ["0DPV","7DPV","14DPV","21DPV","28DPV","1DPC","2DPC","3DPC","4DPC","5DPC","6DPC","7DPC"]}}, "y": {"field": "head", "type": "quantitative", "title": "VN titers (log 10)", "scale": {"domain": [0.9, 3.5], "nice": false, "zero": false}}}}
              ]
            }
          ]
        }
      ]
    }
  ]
}
